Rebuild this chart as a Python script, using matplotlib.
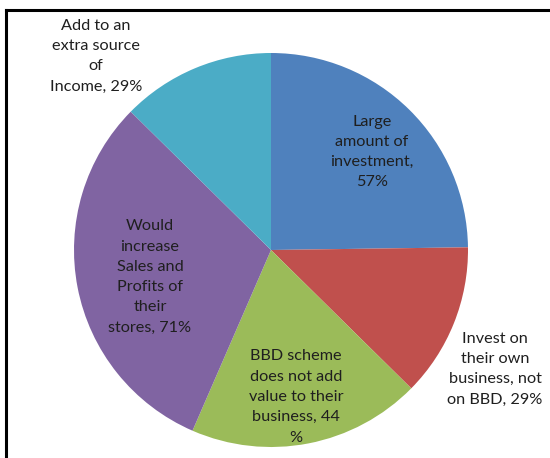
import matplotlib.pyplot as plt
from matplotlib.lines import Line2D

# slice data (clockwise from 12 o'clock)
labels = [
    "Large\namount of\ninvestment,\n57%",
    "Invest on\ntheir own\nbusiness, not\non BBD, 29%",
    "BBD scheme\ndoes not add\nvalue to their\nbusiness, 44\n%",
    "Would\nincrease\nSales and\nProfits of\ntheir\nstores, 71%",
    "Add to an\nextra source\nof\nIncome, 29%",
]
values = [57, 29, 44, 71, 29]
colors = ["#4F81BD", "#C0504D", "#9BBB59", "#8064A2", "#4BACC6"]

# label centres in pixel coordinates (x, y from top)
label_pos = [(372, 152), (495, 369), (296, 397), (150, 277), (96, 56)]

W, H = 550, 458
fig = plt.figure(figsize=(5.5, 4.58), dpi=100)
ax = fig.add_axes([0, 0, 1, 1])

ax.pie(values, colors=colors, startangle=90, counterclock=False,
       center=(271, H - 250), radius=197,
       wedgeprops=dict(linewidth=0))

for txt, (x, y) in zip(labels, label_pos):
    ax.text(x, H - y, txt, ha="center", va="center", fontsize=11.7,
            family="Lato", color="#1f1f1f", linespacing=1.57)

ax.set_xlim(0, W)
ax.set_ylim(0, H)
ax.set_aspect("equal")
ax.axis("off")

# chart frame (top and left edges visible)
fig.add_artist(Line2D([6 / W, 6 / W], [0, 1 - 10 / H], color="black", lw=2.2))
fig.add_artist(Line2D([6 / W, 1], [1 - 10 / H, 1 - 10 / H], color="black", lw=2.2))

fig.savefig("out.png", dpi=100)
